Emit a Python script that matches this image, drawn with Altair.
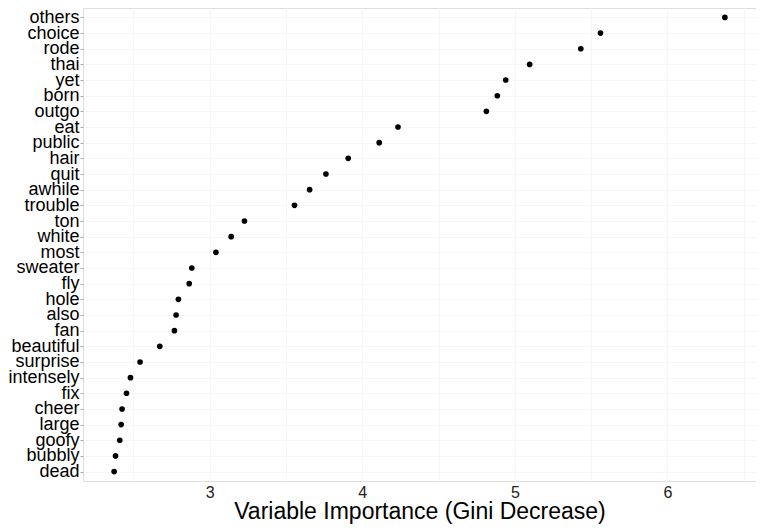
import altair as alt
import pandas as pd

words = ["others", "choice", "rode", "thai", "yet", "born", "outgo", "eat", "public", "hair",
         "quit", "awhile", "trouble", "ton", "white", "most", "sweater", "fly", "hole", "also",
         "fan", "beautiful", "surprise", "intensely", "fix", "cheer", "large", "goofy", "bubbly", "dead"]
importance = [6.376, 5.561, 5.432, 5.097, 4.940, 4.885, 4.813, 4.234, 4.111, 3.908,
              3.762, 3.655, 3.556, 3.228, 3.141, 3.041, 2.883, 2.866, 2.795, 2.780,
              2.769, 2.673, 2.544, 2.481, 2.455, 2.426, 2.420, 2.411, 2.383, 2.374]
x_grid_values = [2.5, 3, 3.5, 4, 4.5, 5, 5.5, 6, 6.5]

df = pd.DataFrame({"word": words, "imp": importance})

font = "Liberation Sans"

chart = alt.Chart(df).mark_circle(size=32, color="black", opacity=1).encode(
    x=alt.X("imp:Q",
            scale=alt.Scale(domain=[2.17, 6.58], nice=False, zero=False),
            axis=alt.Axis(title="Variable Importance (Gini Decrease)",
                          values=x_grid_values,
                          labelExpr="datum.value % 1 == 0 ? format(datum.value, 'd') : ''",
                          ticks=False, domain=False, grid=True, gridColor="#f6f6f6",
                          labelFont=font, labelFontSize=16, labelColor="#222222",
                          labelPadding=3,
                          titleFont=font, titleFontSize=23, titleFontWeight="normal",
                          titleColor="black", titleY=37, titleBaseline="alphabetic")),
    y=alt.Y("word:N", sort=words,
            scale=alt.Scale(type="point", padding=0.6),
            axis=alt.Axis(title=None, ticks=True, tickSize=3, tickColor="#aaaaaa",
                          domain=False, grid=True, gridColor="#f6f6f6",
                          labelFont=font, labelFontSize=18, labelColor="black",
                          labelPadding=1)),
).properties(
    width=673, height=473,
    autosize=alt.AutoSizeParams(type="none"),
    padding={"left": 75, "top": 0, "right": 0, "bottom": 48},
).configure_view(
    stroke="#dddddd", strokeWidth=1
).configure(background="white")

chart.save("out.html", embed_options={"renderer": "svg", "actions": False})
